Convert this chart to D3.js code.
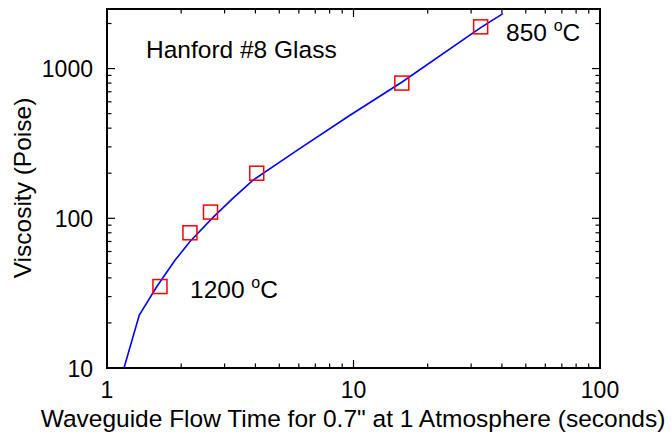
<!DOCTYPE html>
<html>
<head>
<meta charset="utf-8">
<script src="https://cdn.jsdelivr.net/npm/d3@7"></script>
<style>
  body { margin: 0; background: #fff; }
  text { font-family: "Liberation Sans", Arial, sans-serif; fill: #000; }
</style>
</head>
<body>
<svg id="chart" width="671" height="436"></svg>
<script>
// measured points (flow time s, viscosity poise)
const flowTime = [1.64, 2.17, 2.63, 4.05, 15.7, 32.8];
const viscosity = [35, 80, 110, 200, 800, 1900];

// fitted curve as drawn
const fitTime = [1.172, 1.352, 1.591, 1.887, 2.171, 2.699, 3.215, 3.922, 6.067, 9.679, 15.69, 32.8, 40.4];
const fitVisc = [10, 22.6, 34.9, 52.4, 69.9, 101.8, 134.2, 180.3, 293, 488, 810, 1877, 2330];

const xTickVals = [1, 10, 100];
const yTickVals = [10, 100, 1000];

const svg = d3.select("#chart");
const plotL = 107, plotR = 600, plotT = 9, plotB = 368;
const fs = "24.5px", fsNum = "23px";

const x = d3.scaleLog().domain([1, 100]).range([plotL, plotR]);
const y = d3.scaleLog().domain([10, 2500]).range([plotB, plotT]);

const xMinor = [];
for (let d = 1; d < 100; d *= 10) for (let k = 2; k <= 9; k++) xMinor.push(d * k);
const yMinor = [];
for (let d = 10; d < 10000; d *= 10) for (let k = 2; k <= 9; k++) if (d * k < 2500) yMinor.push(d * k);

const tickG = svg.append("g").attr("stroke", "#000").attr("stroke-width", 1.2);
function vTicks(vals, len) {
    vals.forEach(v => {
        tickG.append("line").attr("x1", x(v)).attr("x2", x(v)).attr("y1", plotB).attr("y2", plotB - len);
        tickG.append("line").attr("x1", x(v)).attr("x2", x(v)).attr("y1", plotT).attr("y2", plotT + len);
    });
}
function hTicks(vals, len) {
    vals.forEach(v => {
        tickG.append("line").attr("y1", y(v)).attr("y2", y(v)).attr("x1", plotL).attr("x2", plotL + len);
        tickG.append("line").attr("y1", y(v)).attr("y2", y(v)).attr("x1", plotR).attr("x2", plotR - len);
    });
}
vTicks(xTickVals, 8);
vTicks(xMinor, 4.5);
hTicks(yTickVals, 8);
hTicks(yMinor, 4.5);

svg.append("rect")
    .attr("x", plotL).attr("y", plotT)
    .attr("width", plotR - plotL).attr("height", plotB - plotT)
    .attr("fill", "none").attr("stroke", "#000").attr("stroke-width", 2);

// tick labels
svg.selectAll(".xl").data(xTickVals).join("text")
    .attr("x", d => x(d)).attr("y", 398)
    .attr("text-anchor", "middle").style("font-size", fsNum)
    .text(d => d);
svg.selectAll(".yl").data(yTickVals).join("text")
    .attr("x", 93).attr("y", d => y(d) + 8.5)
    .attr("text-anchor", "end").style("font-size", fsNum)
    .text(d => d);

// axis titles
svg.append("text").attr("x", 353).attr("y", 427)
    .attr("text-anchor", "middle").style("font-size", fs)
    .text("Waveguide Flow Time for 0.7\" at 1 Atmosphere (seconds)");
svg.append("text")
    .attr("transform", "translate(31,188) rotate(-90)")
    .attr("text-anchor", "middle").style("font-size", fs)
    .text("Viscosity (Poise)");

// fit curve
const curve = fitTime.map((t, i) => [t, fitVisc[i]]);
svg.append("path")
    .datum(curve)
    .attr("d", d3.line().x(d => x(d[0])).y(d => y(d[1])))
    .attr("fill", "none").attr("stroke", "#0000ff").attr("stroke-width", 1.6);

// data squares
const pts = flowTime.map((t, i) => [t, viscosity[i]]);
const sq = 14;
svg.selectAll(".pt").data(pts).join("rect")
    .attr("x", d => x(d[0]) - sq / 2).attr("y", d => y(d[1]) - sq / 2)
    .attr("width", sq).attr("height", sq)
    .attr("fill", "none").attr("stroke", "#ff0000").attr("stroke-width", 1.5);

// annotations
svg.append("text").attr("x", 146).attr("y", 58).style("font-size", fs)
    .text("Hanford #8 Glass");

function tempLabel(tx, ty, num) {
    const t = svg.append("text").attr("x", tx).attr("y", ty).style("font-size", fs);
    t.append("tspan").text(num + " ");
    t.append("tspan").attr("dy", -10).style("font-size", "16px").text("o");
    t.append("tspan").attr("dy", 10).text("C");
}
tempLabel(506, 41, "850");
tempLabel(190, 298, "1200");
</script>
</body>
</html>
